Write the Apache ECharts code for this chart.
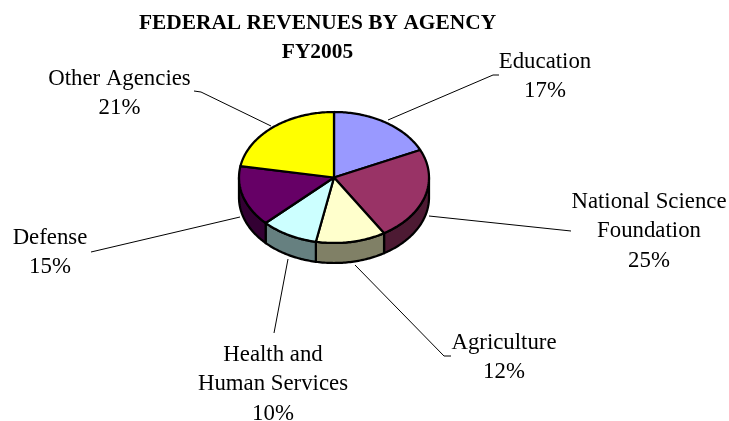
<!DOCTYPE html>
<html><head><meta charset="utf-8">
<style>html,body{margin:0;padding:0;background:#fff}#c{width:729px;height:421px}</style>
<script src="https://cdn.jsdelivr.net/npm/echarts@6/dist/echarts.min.js"></script>
</head><body><div id="c"></div>
<script>
const titleLines = ['FEDERAL REVENUES BY AGENCY', 'FY2005'];
const categories = ['Education', 'National Science\nFoundation', 'Agriculture', 'Health and\nHuman Services', 'Defense', 'Other Agencies'];
const values = [17, 25, 12, 10, 15, 21];
const topColors = ['#9999FF', '#993366', '#FFFFCC', '#CCFFFF', '#660066', '#FFFF00'];
const sideColors = ['#4D4D80', '#4D1A33', '#808066', '#668080', '#330033', '#808000'];

// layout (separate from data)
const CX = 334, CY = 177.5, RX = 95, RY = 65.5, DEPTH = 20;
// small per-boundary shift (degrees) imitating the perspective of the 3D view
const VIEW_SHIFT = [0, 4, -3, -3.4, -4.4, -4.4, 0];
const LABEL_AT = [[545, 62], [649, 202], [504, 343], [273, 355], [50, 238], [119.5, 79]];
const LEADERS = [
  [[388, 120], [493, 75], [499, 75]],
  [[429, 216], [571, 231]],
  [[355, 265], [444, 356], [451, 356]],
  [[288, 259], [274, 333]],
  [[240, 217], [91, 252]],
  [[271, 126], [201, 92], [194, 91]]
];
const LINE_H = 29.5;
const FONT = '22.8px "Liberation Serif"';
const TITLE_STYLE = { fontFamily: 'Liberation Serif', fontWeight: 'bold', fontSize: 21.4, color: '#000' };

const total = values.reduce((a, b) => a + b, 0);
const boundary = i => values.slice(0, i).reduce((a, b) => a + b, 0) / total * 360 + VIEW_SHIFT[i];
const rad = d => d * Math.PI / 180;
const pt = (deg, dy) => [CX + RX * Math.sin(rad(deg)), CY + dy - RY * Math.cos(rad(deg))];
function arc(a, b, dy) {
  const out = [];
  const n = Math.max(2, Math.ceil(Math.abs(b - a)));
  for (let k = 0; k <= n; k++) out.push(pt(a + (b - a) * k / n, dy));
  return out;
}
const edge = { stroke: '#000', lineWidth: 2.25, lineJoin: 'round' };

const data = values.map((v, i) => ({ value: [i, v] }));

const option = {
  animation: false,
  backgroundColor: '#fff',
  title: [
    { text: titleLines[0], left: 317.5, top: 23, padding: 0, textAlign: 'center', textVerticalAlign: 'middle', textStyle: TITLE_STYLE },
    { text: titleLines[1], left: 317.5, top: 52, padding: 0, textAlign: 'center', textVerticalAlign: 'middle', textStyle: TITLE_STYLE }
  ],
  series: [
    { // leader lines and labels
      type: 'custom', coordinateSystem: 'none', data, silent: true, z: 1,
      renderItem(params, api) {
        const i = api.value(0), v = api.value(1);
        const lines = categories[i].split('\n').concat(v + '%');
        const [lx, ly] = LABEL_AT[i];
        return { type: 'group', children: [
          { type: 'polyline', shape: { points: LEADERS[i] }, style: { stroke: '#000', lineWidth: 1, fill: null } }
        ].concat(lines.map((t, k) => ({
          type: 'text',
          style: { text: t, x: lx, y: ly + k * LINE_H, align: 'center', verticalAlign: 'middle', fill: '#000', font: FONT }
        }))) };
      }
    },
    { // side walls
      type: 'custom', coordinateSystem: 'none', data, silent: true, z: 2,
      renderItem(params, api) {
        const i = api.value(0);
        const a = Math.max(boundary(i), 90), b = Math.min(boundary(i + 1), 270);
        if (b <= a) return { type: 'group', children: [] };
        const pts = arc(a, b, 0).concat(arc(b, a, DEPTH));
        return { type: 'polygon', shape: { points: pts }, style: Object.assign({ fill: sideColors[i] }, edge) };
      }
    },
    { // top faces
      type: 'custom', coordinateSystem: 'none', data, silent: true, z: 3,
      renderItem(params, api) {
        const i = api.value(0);
        const pts = [[CX, CY]].concat(arc(boundary(i), boundary(i + 1), 0));
        return { type: 'polygon', shape: { points: pts }, style: Object.assign({ fill: topColors[i] }, edge) };
      }
    }
  ]
};
echarts.init(document.getElementById('c'), null, { renderer: 'canvas' }).setOption(option);
</script></body></html>
